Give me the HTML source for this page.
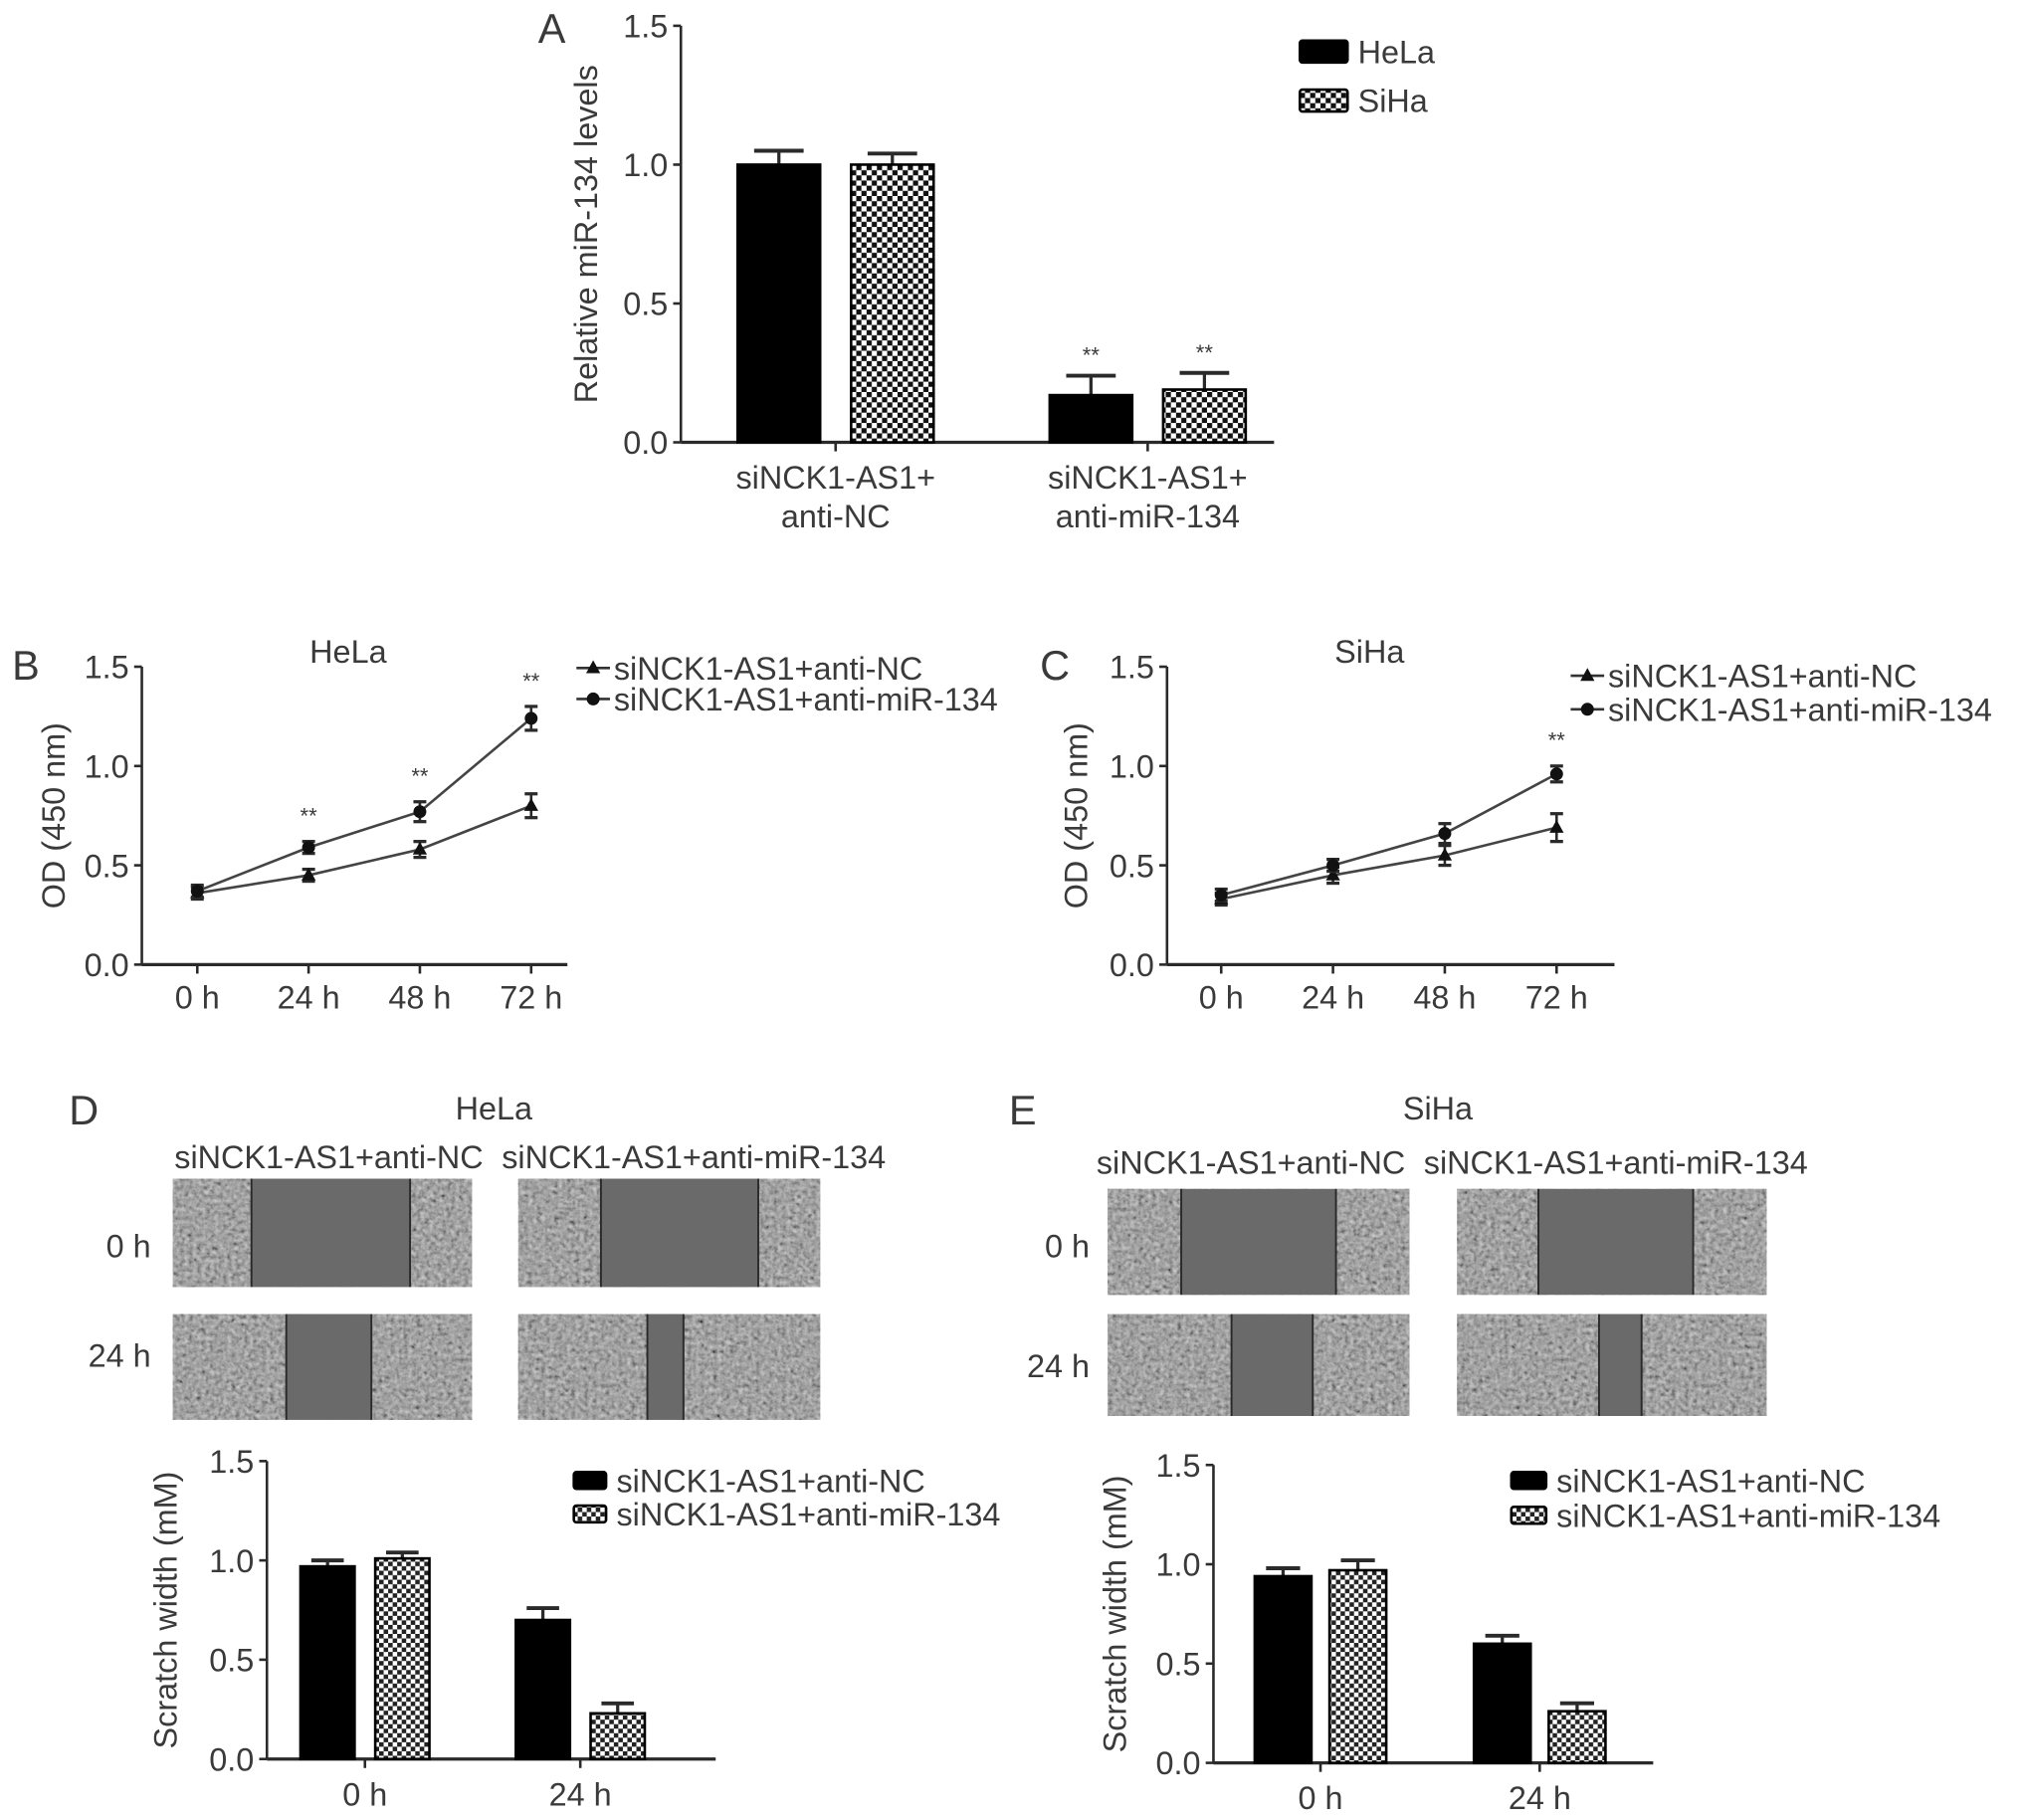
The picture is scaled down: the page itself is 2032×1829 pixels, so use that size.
<!DOCTYPE html>
<html><head><meta charset="utf-8"><style>
html,body{margin:0;padding:0;background:#fff;}
svg{display:block;font-family:"Liberation Sans",sans-serif;}
</style></head><body>
<svg id="fig" width="2032" height="1829" viewBox="0 0 1568 1411.3" preserveAspectRatio="none" xmlns="http://www.w3.org/2000/svg">
<defs>
<pattern id="chk" width="8" height="8" patternUnits="userSpaceOnUse">
<rect width="8" height="8" fill="#fff"/><rect width="4" height="4" fill="#111"/><rect x="4" y="4" width="4" height="4" fill="#111"/>
</pattern>
<pattern id="chk2" width="7" height="7" patternUnits="userSpaceOnUse">
<rect width="7" height="7" fill="#fff"/><rect width="3.5" height="3.5" fill="#222"/><rect x="3.5" y="3.5" width="3.5" height="3.5" fill="#222"/>
</pattern>
<filter id="tex" x="0" y="0" width="100%" height="100%">
<feTurbulence type="fractalNoise" baseFrequency="0.3" numOctaves="2" seed="3"/>
<feColorMatrix type="matrix" values="0.33 0.33 0.33 0 0  0.33 0.33 0.33 0 0  0.33 0.33 0.33 0 0  0 0 0 0 1"/>
<feComponentTransfer><feFuncR type="linear" slope="1.6" intercept="-0.35"/><feFuncG type="linear" slope="1.6" intercept="-0.35"/><feFuncB type="linear" slope="1.6" intercept="-0.35"/></feComponentTransfer>
</filter>
</defs>
<g id="root"></g>
</svg>
<script>
// Panel A
const aCategories = ["siNCK1-AS1+|anti-NC", "siNCK1-AS1+|anti-miR-134"];
const aHela = [1.0, 0.17];
const aHelaErr = [0.05, 0.07];
const aSiha = [1.0, 0.19];
const aSihaErr = [0.04, 0.06];
const aStars = ["", "**"];
// Panel B
const timeLabels = ["0 h", "24 h", "48 h", "72 h"];
const bNC = [0.36, 0.45, 0.58, 0.80];
const bNCErr = [0.03, 0.03, 0.04, 0.06];
const bMiR = [0.37, 0.59, 0.77, 1.24];
const bMiRErr = [0.03, 0.03, 0.05, 0.06];
const bStars = ["", "**", "**", "**"];
// Panel C
const cNC = [0.33, 0.45, 0.55, 0.69];
const cNCErr = [0.03, 0.04, 0.05, 0.07];
const cMiR = [0.35, 0.50, 0.66, 0.96];
const cMiRErr = [0.03, 0.03, 0.05, 0.04];
const cStars = ["", "", "", "**"];
// Panel D
const scratchCats = ["0 h", "24 h"];
const dNC = [0.97, 0.70];
const dNCErr = [0.03, 0.06];
const dMiR = [1.01, 0.23];
const dMiRErr = [0.03, 0.05];
// Panel E
const eNC = [0.94, 0.60];
const eNCErr = [0.04, 0.04];
const eMiR = [0.97, 0.26];
const eMiRErr = [0.05, 0.04];
const yTicks = [0.0, 0.5, 1.0, 1.5];

const NS = "http://www.w3.org/2000/svg";
const root = document.getElementById('root');
const FS = 25;
function mk(tag, attrs, parent, txt) {
  const e = document.createElementNS(NS, tag);
  for (const k in attrs) e.setAttribute(k, attrs[k]);
  if (txt !== undefined) e.textContent = txt;
  (parent || root).appendChild(e);
  return e;
}
const INK = "#2a2a2a", TXT = "#3a3a3a";
function label(x, y, t, size, anchor, name, extra) {
  const e = mk('text', Object.assign({x: x, y: y, 'font-size': size, fill: TXT, 'text-anchor': anchor || 'start'}, extra || {}), root, t);
  
  
  return e;
}
function yAxis(g, ax) {
  const ys = v => ax.y0 + (ax.y1 - ax.y0) * v / 1.5;
  const l = mk('line', {x1: ax.x, x2: ax.x, y1: ax.y1, y2: ax.y0, stroke: INK, 'stroke-width': 2}, g);
  
  
  const l2 = mk('line', {x1: ax.x, x2: ax.xEnd, y1: ax.y0, y2: ax.y0, stroke: INK, 'stroke-width': 2.5}, g);
  
  
  yTicks.forEach(v => {
    mk('line', {x1: ax.x - 6, x2: ax.x, y1: ys(v), y2: ys(v), stroke: INK, 'stroke-width': 2}, g);
    const t = mk('text', {x: ax.x - 10, y: ys(v) + 9, 'font-size': FS, fill: TXT, 'text-anchor': 'end'}, g, v.toFixed(1));
    
    
  });
  const cy = (ax.y0 + ax.y1) / 2;
  const t = mk('text', {x: ax.titleX, y: cy, 'font-size': FS, fill: TXT, 'text-anchor': 'middle', transform: `rotate(-90 ${ax.titleX} ${cy})`}, g, ax.title);
  
  
  return ys;
}
function errBar(g, x, yTop, yErr, w) {
  mk('line', {x1: x, x2: x, y1: yTop, y2: yErr, stroke: INK, 'stroke-width': 2.5}, g);
  mk('line', {x1: x - w, x2: x + w, y1: yErr, y2: yErr, stroke: INK, 'stroke-width': 3}, g);
}
function barChart(ax, cats, s1, e1, s2, e2, stars, fill2) {
  const g = mk('g', {}, root);
  
  
  const ys = yAxis(g, ax);
  cats.forEach((c, i) => {
    const cx = ax.groupX[i];
    mk('line', {x1: cx, x2: cx, y1: ax.y0, y2: ax.y0 + 7, stroke: INK, 'stroke-width': 2}, g);
    const lines = c.split('|');
    lines.forEach((ln, j) => {
      const t = mk('text', {x: cx, y: ax.y0 + ax.labOff + j * 30, 'font-size': FS, fill: TXT, 'text-anchor': 'middle'}, g, ln);
      
      
    });
    [[s1, e1, '#000', -1], [s2, e2, fill2, 1]].forEach(([s, e, f, side]) => {
      const bx = side < 0 ? cx - ax.gap / 2 - ax.bw : cx + ax.gap / 2;
      const top = ys(s[i]);
      errBar(g, bx + ax.bw / 2, top, ys(s[i] + e[i]), ax.bw * 0.3);
      const r = mk('rect', {x: bx, y: top, width: ax.bw, height: ax.y0 - top, fill: f, stroke: '#000', 'stroke-width': 2}, g);
      
      
      if (stars && stars[i]) {
        const t = mk('text', {x: bx + ax.bw / 2, y: ys(s[i] + e[i]) - 10, 'font-size': 17, fill: TXT, 'text-anchor': 'middle'}, g, stars[i]);
        
        
      }
    });
  });
  return g;
}
function lineChart(ax, nc, ncE, mir, mirE, stars) {
  const g = mk('g', {}, root);
  
  
  const ys = yAxis(g, ax);
  const xs = i => ax.px0 + i * ax.dx;
  timeLabels.forEach((t, i) => {
    mk('line', {x1: xs(i), x2: xs(i), y1: ax.y0, y2: ax.y0 + 7, stroke: INK, 'stroke-width': 2}, g);
    const e = mk('text', {x: xs(i), y: ax.y0 + 34, 'font-size': FS, fill: TXT, 'text-anchor': 'middle'}, g, t);
    
    
  });
  [[nc, ncE, 'tri'], [mir, mirE, 'dot']].forEach(([s, e, m]) => {
    const pl = mk('polyline', {points: s.map((v, i) => xs(i) + ',' + ys(v)).join(' '), fill: 'none', stroke: '#444', 'stroke-width': 2}, g);
    
    
    s.forEach((v, i) => {
      const x = xs(i), y = ys(v);
      mk('line', {x1: x, x2: x, y1: ys(v + e[i]), y2: ys(v - e[i]), stroke: INK, 'stroke-width': 2}, g);
      mk('line', {x1: x - 5, x2: x + 5, y1: ys(v + e[i]), y2: ys(v + e[i]), stroke: INK, 'stroke-width': 2.5}, g);
      mk('line', {x1: x - 5, x2: x + 5, y1: ys(v - e[i]), y2: ys(v - e[i]), stroke: INK, 'stroke-width': 2.5}, g);
      let p;
      if (m === 'tri') p = mk('polygon', {points: `${x},${y - 6} ${x - 5.5},${y + 4} ${x + 5.5},${y + 4}`, fill: '#111'}, g);
      else p = mk('circle', {cx: x, cy: y, r: 5, fill: '#111'}, g);
      
      
    });
  });
  stars.forEach((st, i) => {
    if (!st) return;
    const t = mk('text', {x: xs(i), y: ys(mir[i] + mirE[i]) - 14, 'font-size': 17, fill: TXT, 'text-anchor': 'middle'}, g, st);
    
    
  });
  [['siNCK1-AS1+anti-NC', 'tri'], ['siNCK1-AS1+anti-miR-134', 'dot']].forEach(([t, m], j) => {
    const y = ax.legY + j * ax.legDy, x = ax.legX;
    const lg = mk('g', {}, g);
    
    
    mk('line', {x1: x, x2: x + 26, y1: y, y2: y, stroke: '#333', 'stroke-width': 2}, lg);
    if (m === 'tri') mk('polygon', {points: `${x + 13},${y - 6} ${x + 7.5},${y + 4} ${x + 18.5},${y + 4}`, fill: '#111'}, lg);
    else mk('circle', {cx: x + 13, cy: y, r: 5, fill: '#111'}, lg);
    mk('text', {x: x + 29, y: y + 9, 'font-size': FS, fill: TXT}, lg, t);
  });
  return g;
}
function boxLegend(x, y0, dy, entries, w, h) {
  entries.forEach(([t, f], j) => {
    const y = y0 + j * dy;
    const lg = mk('g', {}, root);
    
    
    mk('rect', {x: x, y: y - h / 2, width: w, height: h, fill: f, stroke: '#000', 'stroke-width': 2, rx: 2}, lg);
    mk('text', {x: x + w + 8, y: y + 9, 'font-size': FS, fill: TXT}, lg, t);
  });
}
function micro(x, y, w, h, g1, g2, name) {
  const g = mk('g', {}, root);
  
  
  mk('rect', {x: x, y: y, width: w, height: h, fill: '#7c7c7c'}, g);
  mk('rect', {x: x, y: y, width: w, height: h, filter: 'url(#tex)', opacity: 0.7}, g);
  mk('rect', {x: g1, y: y, width: g2 - g1, height: h, fill: '#6a6a6a'}, g);
  mk('line', {x1: g1, x2: g1, y1: y, y2: y + h, stroke: '#2a2a2a', 'stroke-width': 1.5}, g);
  mk('line', {x1: g2, x2: g2, y1: y, y2: y + h, stroke: '#2a2a2a', 'stroke-width': 1.5}, g);
}

// Panel A
label(428, 33, 'A', 32, 'middle', 'panel-label-a');
barChart({name: 'chart-a', x: 528, xEnd: 988, y0: 343, y1: 20, groupX: [648, 890], bw: 64, gap: 24, labOff: 36, titleX: 463, title: 'Relative miR-134 levels'},
  aCategories, aHela, aHelaErr, aSiha, aSihaErr, aStars, 'url(#chk)');
boxLegend(1008, 40, 38, [['HeLa', '#000'], ['SiHa', 'url(#chk)']], 37, 17);

// Panel B
label(20, 527, 'B', 32, 'middle', 'panel-label-b');
label(270, 514, 'HeLa', FS, 'middle', 'chart-title-b');
lineChart({name: 'chart-b', x: 110, xEnd: 440, y0: 748, y1: 517, px0: 153, dx: 86.3, titleX: 50, title: 'OD (450 nm)', legX: 447, legY: 518, legDy: 24}, bNC, bNCErr, bMiR, bMiRErr, bStars);

// Panel C
label(818, 527, 'C', 32, 'middle', 'panel-label-c');
label(1062, 514, 'SiHa', FS, 'middle', 'chart-title-c');
lineChart({name: 'chart-c', x: 905, xEnd: 1252, y0: 748, y1: 517, px0: 947, dx: 86.7, titleX: 843, title: 'OD (450 nm)', legX: 1218, legY: 524, legDy: 26}, cNC, cNCErr, cMiR, cMiRErr, cStars);

// Panel D
label(65, 872, 'D', 32, 'middle', 'panel-label-d');
label(383, 868, 'HeLa', FS, 'middle', 'panel-title-d');
label(255, 906, 'siNCK1-AS1+anti-NC', FS, 'middle', 'column-label-anti-nc');
label(538, 906, 'siNCK1-AS1+anti-miR-134', FS, 'middle', 'column-label-anti-mir');
label(117, 975, '0 h', FS, 'end', 'row-label-0h');
label(117, 1060, '24 h', FS, 'end', 'row-label-24h');
micro(134, 914, 232, 84, 195, 318, 'micrograph-hela-nc-0h');
micro(402, 914, 234, 84, 466, 588, 'micrograph-hela-mir-0h');
micro(134, 1019, 232, 82, 222, 288, 'micrograph-hela-nc-24h');
micro(402, 1019, 234, 82, 502, 530, 'micrograph-hela-mir-24h');
barChart({name: 'chart-d', x: 207, xEnd: 555, y0: 1364, y1: 1133, groupX: [283, 450], bw: 42, gap: 16, labOff: 36, titleX: 137, title: 'Scratch width (mM)'},
  scratchCats, dNC, dNCErr, dMiR, dMiRErr, null, 'url(#chk2)');
boxLegend(445, 1148, 26, [['siNCK1-AS1+anti-NC', '#000'], ['siNCK1-AS1+anti-miR-134', 'url(#chk2)']], 25, 13);

// Panel E
label(793, 872, 'E', 32, 'middle', 'panel-label-e');
label(1115, 868, 'SiHa', FS, 'middle', 'panel-title-e');
label(970, 910, 'siNCK1-AS1+anti-NC', FS, 'middle', 'column-label-anti-nc-e');
label(1253, 910, 'siNCK1-AS1+anti-miR-134', FS, 'middle', 'column-label-anti-mir-e');
label(845, 975, '0 h', FS, 'end', 'row-label-0h-e');
label(845, 1068, '24 h', FS, 'end', 'row-label-24h-e');
micro(859, 922, 234, 82, 916, 1036, 'micrograph-siha-nc-0h');
micro(1130, 922, 240, 82, 1193, 1313, 'micrograph-siha-mir-0h');
micro(859, 1019, 234, 79, 955, 1018, 'micrograph-siha-nc-24h');
micro(1130, 1019, 240, 79, 1240, 1273, 'micrograph-siha-mir-24h');
barChart({name: 'chart-e', x: 941, xEnd: 1282, y0: 1367, y1: 1136, groupX: [1024, 1194], bw: 44, gap: 14, labOff: 36, titleX: 873, title: 'Scratch width (mM)'},
  scratchCats, eNC, eNCErr, eMiR, eMiRErr, null, 'url(#chk2)');
boxLegend(1172, 1148, 27, [['siNCK1-AS1+anti-NC', '#000'], ['siNCK1-AS1+anti-miR-134', 'url(#chk2)']], 27, 13);
</script>
</body></html>
